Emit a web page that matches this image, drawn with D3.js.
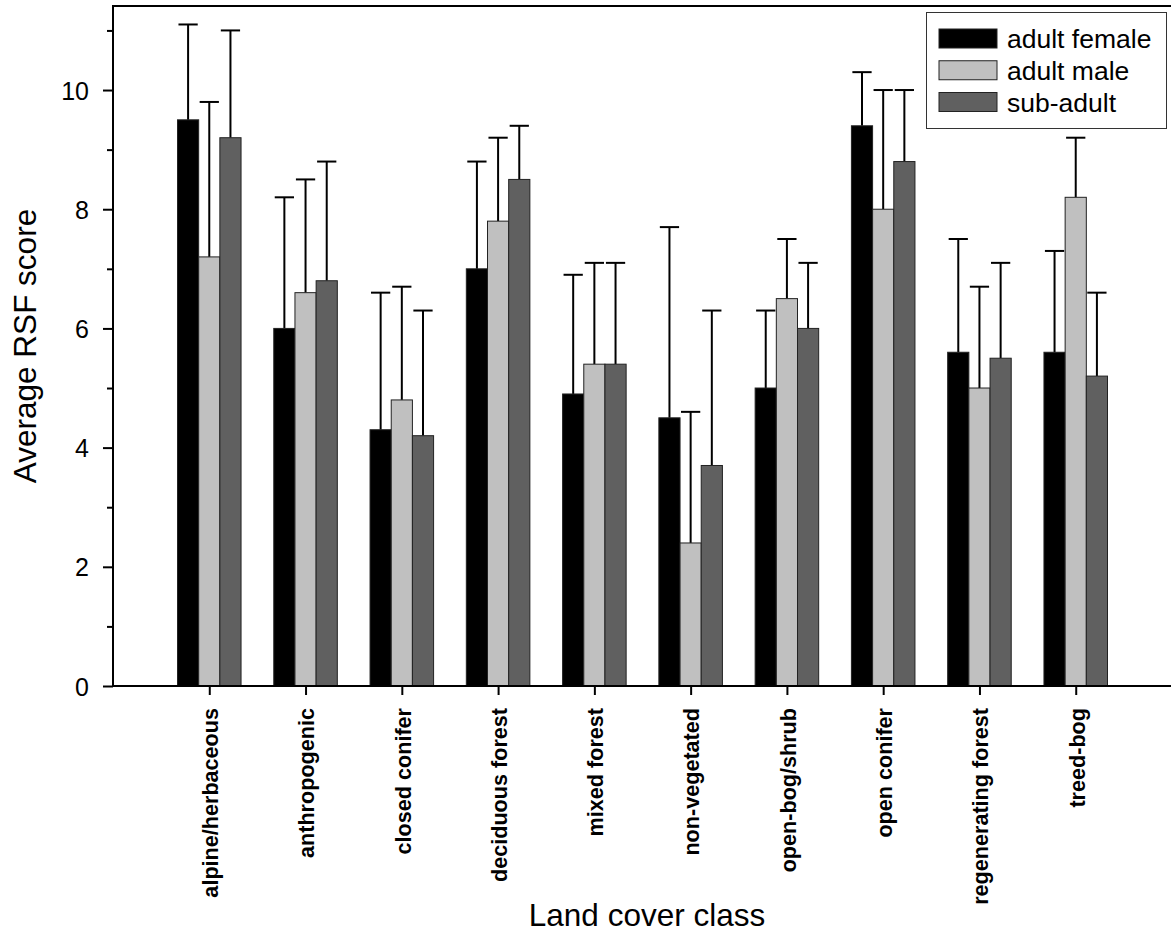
<!DOCTYPE html>
<html>
<head>
<meta charset="utf-8">
<script src="https://cdn.jsdelivr.net/npm/d3@7"></script>
<style>
  html, body { margin: 0; padding: 0; background: #fff; }
  svg { display: block; font-family: "Liberation Sans", Arial, sans-serif; }
</style>
</head>
<body>
<svg id="chart" width="1171" height="932"></svg>
<script>
const categories = ["alpine/herbaceous", "anthropogenic", "closed conifer", "deciduous forest",
  "mixed forest", "non-vegetated", "open-bog/shrub", "open conifer", "regenerating forest", "treed-bog"];
const seriesNames = ["adult female", "adult male", "sub-adult"];
const femaleMean = [9.5, 6.0, 4.3, 7.0, 4.9, 4.5, 5.0, 9.4, 5.6, 5.6];
const femaleErr  = [1.6, 2.2, 2.3, 1.8, 2.0, 3.2, 1.3, 0.9, 1.9, 1.7];
const maleMean   = [7.2, 6.6, 4.8, 7.8, 5.4, 2.4, 6.5, 8.0, 5.0, 8.2];
const maleErr    = [2.6, 1.9, 1.9, 1.4, 1.7, 2.2, 1.0, 2.0, 1.7, 1.0];
const subMean    = [9.2, 6.8, 4.2, 8.5, 5.4, 3.7, 6.0, 8.8, 5.5, 5.2];
const subErr     = [1.8, 2.0, 2.1, 0.9, 1.7, 2.6, 1.1, 1.2, 1.6, 1.4];
const yMajorTicks = [0, 2, 4, 6, 8, 10];
const yMinorTicks = [1, 3, 5, 7, 9, 11];
const colors = ["#000000", "#c0c0c0", "#606060"];

const series = [
  { name: seriesNames[0], mean: femaleMean, err: femaleErr, color: colors[0] },
  { name: seriesNames[1], mean: maleMean, err: maleErr, color: colors[1] },
  { name: seriesNames[2], mean: subMean, err: subErr, color: colors[2] }
];

const svg = d3.select("#chart");
const pLeft = 113, pRight = 1172, pTop = 6, pBottom = 686;

const x = d3.scaleLinear().domain([0, 11]).range([pLeft, pRight]);
const y = d3.scaleLinear().domain([0, 11.41]).range([pBottom, pTop]);
const barW = 0.22;
const capW = 0.2;

// Bars and error bars
series.forEach((s, si) => {
  const off = (si - 1) * barW;
  const g = svg.append("g");
  g.selectAll("line.err").data(categories).join("line").attr("class", "err")
    .attr("x1", (d, i) => x(i + 1 + off)).attr("x2", (d, i) => x(i + 1 + off))
    .attr("y1", (d, i) => y(s.mean[i])).attr("y2", (d, i) => y(s.mean[i] + s.err[i]))
    .attr("stroke", "#000").attr("stroke-width", 2);
  g.selectAll("line.cap").data(categories).join("line").attr("class", "cap")
    .attr("x1", (d, i) => x(i + 1 + off - capW / 2)).attr("x2", (d, i) => x(i + 1 + off + capW / 2))
    .attr("y1", (d, i) => y(s.mean[i] + s.err[i])).attr("y2", (d, i) => y(s.mean[i] + s.err[i]))
    .attr("stroke", "#000").attr("stroke-width", 2);
  g.selectAll("rect.bar").data(categories).join("rect").attr("class", "bar")
    .attr("x", (d, i) => x(i + 1 + off - barW / 2))
    .attr("width", x(barW) - x(0))
    .attr("y", (d, i) => y(s.mean[i]))
    .attr("height", (d, i) => y(0) - y(s.mean[i]))
    .attr("fill", s.color)
    .attr("stroke", "#222").attr("stroke-width", 1);
});

// Y axis
const yAxis = d3.axisLeft(y).tickValues(yMajorTicks).tickSize(10).tickPadding(14).tickFormat(d3.format("d"));
const gy = svg.append("g").attr("transform", `translate(${pLeft},0)`).call(yAxis);
gy.select(".domain").remove();
gy.selectAll(".tick line").attr("stroke", "#000").attr("stroke-width", 2);
gy.selectAll(".tick text").attr("font-size", 25).attr("fill", "#000").attr("dy", "0.36em")
  .attr("font-family", "'Liberation Sans', Arial, sans-serif");
const yMinor = d3.axisLeft(y).tickValues(yMinorTicks).tickSize(6).tickFormat("");
const gym = svg.append("g").attr("transform", `translate(${pLeft},0)`).call(yMinor);
gym.select(".domain").remove();
gym.selectAll(".tick line").attr("stroke", "#000").attr("stroke-width", 2);

// X axis
const xAxis = d3.axisBottom(x).tickValues(d3.range(1, categories.length + 1)).tickSize(9).tickFormat("");
const gx = svg.append("g").attr("transform", `translate(0,${pBottom})`).call(xAxis);
gx.select(".domain").remove();
gx.selectAll(".tick line").attr("stroke", "#000").attr("stroke-width", 2);

// category labels
svg.append("g").selectAll("text").data(categories).join("text")
  .attr("transform", (d, i) => `translate(${x(i + 1) + 1},708) rotate(-90)`)
  .attr("text-anchor", "end").attr("dy", "0.36em")
  .attr("font-size", 21.6).attr("font-weight", "bold").attr("fill", "#000")
  .text(d => d);

// frame lines
svg.append("line").attr("x1", pLeft).attr("x2", pLeft).attr("y1", pTop).attr("y2", pBottom + 1)
  .attr("stroke", "#000").attr("stroke-width", 2);
svg.append("line").attr("x1", pLeft - 1).attr("x2", pRight).attr("y1", pBottom).attr("y2", pBottom)
  .attr("stroke", "#000").attr("stroke-width", 2);
svg.append("line").attr("x1", pLeft - 1).attr("x2", pRight).attr("y1", pTop).attr("y2", pTop)
  .attr("stroke", "#000").attr("stroke-width", 2);

// axis titles
svg.append("text").attr("transform", "translate(36,346) rotate(-90)")
  .attr("text-anchor", "middle").attr("font-size", 31.5).attr("fill", "#000")
  .text("Average RSF score");
svg.append("text").attr("x", 647).attr("y", 926)
  .attr("text-anchor", "middle").attr("font-size", 31.5).attr("fill", "#000")
  .text("Land cover class");

// legend
const lg = svg.append("g");
lg.append("rect").attr("x", 926.5).attr("y", 12.5).attr("width", 240).attr("height", 116)
  .attr("fill", "#fff").attr("stroke", "#333").attr("stroke-width", 1);
const rows = lg.selectAll("g.row").data(series).join("g").attr("class", "row")
  .attr("transform", (d, i) => `translate(0,${38.5 + i * 31.75})`);
rows.append("rect").attr("x", 939).attr("y", -9.5).attr("width", 58).attr("height", 19)
  .attr("fill", d => d.color).attr("stroke", "#222").attr("stroke-width", 1);
rows.append("text").attr("x", 1007).attr("y", 0).attr("dy", "0.36em")
  .attr("font-size", 26.5).attr("fill", "#000").text(d => d.name);
</script>
</body>
</html>
